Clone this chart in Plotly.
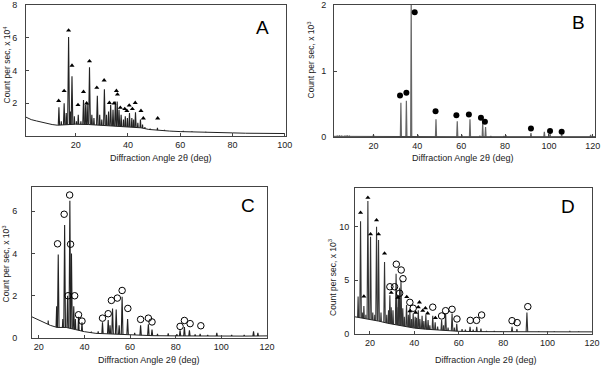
import plotly.graph_objects as go

# ---- Panel A ----
a_bg_x = [1, 3, 5, 8, 11, 13, 16, 20, 25, 30, 35, 40, 45, 48, 52, 56, 60, 65, 70, 75, 80, 85, 90, 95, 100]
a_bg_y = [1.15, 1.0, 0.92, 0.8, 0.7, 0.66, 0.7, 0.72, 0.7, 0.65, 0.6, 0.55, 0.5, 0.4, 0.34, 0.3, 0.27, 0.24,
          0.22, 0.2, 0.19, 0.17, 0.16, 0.15, 0.15]
a_pk_x = [13.6, 14.5, 15.6, 16.4, 17.3, 18.0, 18.6, 19.5, 20.3, 21.0, 22.0, 23.0, 23.7, 24.4, 25.3, 26.2, 27.0,
          28.3, 29.2, 30.0, 31.0, 31.8, 32.6, 33.4, 34.3, 35.2, 35.9, 36.6, 37.4, 38.3, 39.0, 39.8, 40.6, 41.5,
          42.2, 42.9, 43.8, 44.8, 45.6, 46.5, 48.5, 51.3, 54.0, 57.0, 61.2, 64.5, 69.8, 74.0]
a_pk_y = [1.75, 0.9, 2.0, 1.4, 6.05, 1.5, 3.65, 1.2, 0.9, 1.3, 0.9, 2.2, 1.9, 2.0, 4.2, 1.3, 1.1,
          2.45, 1.3, 1.0, 2.85, 1.3, 1.5, 1.9, 1.6, 2.1, 2.1, 1.6, 1.3, 1.0, 1.2, 1.1, 1.4, 1.1,
          1.0, 1.45, 0.8, 1.0, 0.7, 0.55, 0.45, 0.5, 0.38, 0.3, 0.32, 0.28, 0.25, 0.22]
a_tri_x = [13.5, 15.6, 17.3, 18.6, 20.9, 23.0, 24.2, 25.3, 28.1, 30.9, 32.9, 34.7, 35.6, 36.0, 37.1, 38.8,
           39.6, 40.5, 41.7, 42.8, 45.0, 45.9, 51.4]
a_tri_y = [2.15, 2.75, 6.45, 4.3, 1.9, 2.7, 2.0, 4.57, 2.95, 3.4, 2.03, 2.0, 2.76, 2.54, 1.73, 1.65,
           1.54, 1.87, 1.65, 2.03, 1.54, 1.08, 1.08]

# ---- Panel B ----
b_bg_x = [2, 10, 30, 60, 90, 121]
b_bg_y = [0.01, 0.008, 0.006, 0.005, 0.005, 0.005]
b_pk_x = [3.5, 4.5, 5.5, 7, 8, 9, 20.0, 32.5, 35.0, 37.2, 40.3, 48.5, 58.2, 60.3, 64.0, 68.5, 69.8, 71.1,
          73.5, 79.5, 80.5, 91.8, 97.9, 100.5, 105.8, 119]
b_pk_y = [0.02, 0.025, 0.02, 0.02, 0.025, 0.02, 0.035, 0.52, 0.55, 2.05, 0.03, 0.27, 0.24, 0.03, 0.27, 0.02,
          0.21, 0.15, 0.015, 0.015, 0.025, 0.06, 0.08, 0.05, 0.04, 0.03]
b_dot_x = [32.1, 35.0, 38.8, 48.3, 57.8, 63.5, 69.0, 70.8, 91.8, 100.5, 105.8]
b_dot_y = [0.63, 0.67, 1.89, 0.39, 0.33, 0.34, 0.29, 0.23, 0.13, 0.09, 0.08]

# ---- Panel C ----
c_bg_x = [17, 19, 22, 25, 28, 32, 36, 40, 45, 50, 55, 60, 70, 80, 90, 100, 110, 120]
c_bg_y = [1.0, 0.9, 0.75, 0.6, 0.5, 0.5, 0.4, 0.3, 0.22, 0.2, 0.18, 0.14, 0.11, 0.1, 0.09, 0.09, 0.09, 0.1]
c_pk_x = [24.1, 27.8, 28.5, 30.5, 31.3, 32.6, 33.6, 34.3, 35.3, 36.0, 37.4, 38.9, 43.0, 46.0, 47.9, 50.4,
          51.2, 52.3, 53.9, 55.2, 56.5, 58.9, 62.0, 64.6, 68.0, 69.6, 72.0, 76.7, 80.5, 81.9, 83.8, 86.0,
          88.5, 90.7, 94.0, 98.0, 104.5, 110.0, 114.1, 116.0]
c_pk_y = [0.83, 1.5, 3.95, 0.9, 5.35, 2.0, 6.5, 4.0, 1.5, 0.9, 1.0, 0.75, 0.3, 0.32, 0.75, 0.85,
          0.6, 1.4, 1.35, 0.6, 1.95, 0.9, 0.25, 0.6, 0.65, 0.4, 0.2, 0.22, 0.18, 0.36, 0.52, 0.36,
          0.17, 0.2, 0.15, 0.25, 0.15, 0.15, 0.31, 0.25]
c_circ_x = [28.2, 31.1, 32.8, 33.5, 33.9, 35.7, 37.4, 38.9, 47.9, 50.4, 51.8, 54.4, 56.5, 59.0, 64.6, 68.0,
            69.6, 81.9, 83.8, 86.3, 91.0]
c_circ_y = [4.46, 5.86, 2.0, 6.77, 4.44, 2.0, 1.1, 0.8, 0.94, 1.15, 1.78, 1.89, 2.25, 1.4, 0.88, 0.94,
            0.76, 0.55, 0.83, 0.68, 0.58]

# ---- Panel D ----
d_bg_x = [13.3, 16, 20, 24, 28, 32, 36, 40, 45, 50, 55, 60, 70, 80, 90, 100, 110, 120]
d_bg_y = [1.6, 1.5, 1.4, 1.2, 1.0, 0.85, 0.7, 0.55, 0.45, 0.38, 0.3, 0.25, 0.22, 0.2, 0.2, 0.2, 0.2, 0.2]
d_pk_x = [14.7, 15.8, 16.6, 17.3, 18.2, 19.1, 20.3, 21.3, 22.2, 23.0, 23.9, 25.0, 26.6, 27.6, 28.4, 29.0,
          29.6, 30.4, 31.8, 32.2, 32.8, 33.4, 34.0, 34.8, 35.5, 36.5, 37.3, 38.0, 38.8, 39.5, 40.4, 41.0,
          41.8, 42.5, 43.5, 44.3, 45.2, 46.2, 47.0, 48.3, 49.4, 50.5, 52.3, 53.2, 54.1, 55.2, 57.0, 58.0,
          59.1, 61.5, 63.0, 65.1, 66.5, 68.1, 70.0, 72.5, 76.0, 79.0, 84.0, 86.2, 90.7, 96.0, 103.0, 110.0,
          114.0]
d_pk_y = [3.5, 10.5, 2.0, 2.6, 1.8, 12.4, 9.05, 2.0, 1.8, 10.0, 8.75, 2.0, 6.7, 1.8, 2.2, 3.6,
          2.5, 2.2, 5.6, 2.5, 3.6, 4.3, 5.0, 2.4, 1.6, 2.7, 1.8, 2.1, 1.4, 1.9, 1.6, 1.5,
          2.2, 1.4, 1.7, 1.2, 1.8, 1.3, 0.8, 1.7, 1.1, 0.7, 1.3, 0.8, 1.9, 0.6, 1.9, 0.6,
          0.95, 0.45, 0.4, 0.68, 0.4, 0.68, 0.5, 0.3, 0.3, 0.25, 0.68, 0.45, 2.0, 0.25, 0.25, 0.3,
          0.25]
d_tri_x = [15.8, 17.3, 19.1, 20.3, 23.0, 23.9, 26.6, 29.6, 32.6, 36.6, 38.0, 40.6, 41.8, 42.3, 43.8, 45.0,
           46.0, 49.5]
d_tri_y = [11.3, 3.5, 12.7, 9.3, 10.6, 9.3, 7.5, 3.85, 3.4, 3.45, 2.14, 2.0, 2.5, 2.95, 2.17, 2.4,
           1.93, 1.5]
d_circ_x = [29.0, 31.1, 31.9, 33.4, 34.1, 34.9, 38.0, 39.5, 48.3, 52.3, 54.1, 57.0, 59.2, 65.2, 68.0, 70.3,
            84.0, 86.3, 91.1]
d_circ_y = [4.4, 4.4, 6.5, 3.8, 5.96, 5.15, 2.95, 2.4, 2.5, 1.68, 2.17, 2.3, 1.4, 1.27, 1.27, 1.77,
            1.24, 1.06, 2.55]

W, H = 602, 367
FONT = "Liberation Sans, Arial, sans-serif"
XTITLE = "Diffraction Angle 2θ (deg)"
YTITLE = "Count per sec, x 10<sup>%s</sup>"


def peak_trace(px, py, ax, color, half=0.4, width=1.1):
    xs, ys = [], []
    for p, h in zip(px, py):
        xs += [p - half, p, p + half, None]
        ys += [0, h, 0, None]
    return go.Scatter(x=xs, y=ys, mode="lines", line=dict(color=color, width=width),
                      xaxis="x" + ax, yaxis="y" + ax, showlegend=False, hoverinfo="skip")


def bg_trace(bx, by, ax, color):
    # white fill hides the bottoms of the peak lines under the baseline
    return go.Scatter(x=bx, y=by, mode="lines", line=dict(color=color, width=1),
                      fill="tozeroy", fillcolor="white",
                      xaxis="x" + ax, yaxis="y" + ax, showlegend=False, hoverinfo="skip")


def marker_trace(mx, my, ax, symbol, size, width=1):
    return go.Scatter(x=mx, y=my, mode="markers", xaxis="x" + ax, yaxis="y" + ax,
                      marker=dict(symbol=symbol, size=size, color="black", line=dict(color="black", width=width)),
                      showlegend=False, hoverinfo="skip")


fig = go.Figure()
fig.add_trace(peak_trace(a_pk_x, a_pk_y, "", "#222"))
fig.add_trace(bg_trace(a_bg_x, a_bg_y, "", "#222"))
fig.add_trace(marker_trace(a_tri_x, a_tri_y, "", "triangle-up", 4.5, 0))

fig.add_trace(peak_trace(b_pk_x, b_pk_y, "2", "#666", half=0.25, width=1.2))
fig.add_trace(bg_trace(b_bg_x, b_bg_y, "2", "#444"))
fig.add_trace(marker_trace(b_dot_x, b_dot_y, "2", "circle", 6, 0))

fig.add_trace(peak_trace(c_pk_x, c_pk_y, "3", "#222"))
fig.add_trace(bg_trace(c_bg_x, c_bg_y, "3", "#222"))
fig.add_trace(marker_trace(c_circ_x, c_circ_y, "3", "circle-open", 6.5, 1))

fig.add_trace(peak_trace(d_pk_x, d_pk_y, "4", "#333"))
fig.add_trace(bg_trace(d_bg_x, d_bg_y, "4", "#222"))
fig.add_trace(marker_trace(d_tri_x, d_tri_y, "4", "triangle-up", 4.5, 0))
fig.add_trace(marker_trace(d_circ_x, d_circ_y, "4", "circle-open", 6.5, 1))


def xdom(l, r):
    return [l / W, r / W]


def ydom(t, b):
    return [1 - b / H, 1 - t / H]


axis_common = dict(showline=True, mirror=True, linecolor="#444", linewidth=1, ticks="inside", ticklen=3,
                   tickcolor="#444", showgrid=False, zeroline=False, automargin=False,
                   ticklabeloverflow="allow", tickfont=dict(size=9, color="#222"))

fig.update_layout(
    template="none",
    width=W, height=H, margin=dict(l=0, r=0, t=0, b=0),
    paper_bgcolor="white", plot_bgcolor="white",
    font=dict(family=FONT, size=9, color="#222"),
    xaxis=dict(domain=xdom(26, 286), range=[1, 100.5], tickvals=[20, 40, 60, 80, 100],
               anchor="y", **axis_common),
    yaxis=dict(domain=ydom(5, 136), range=[0, 8], tickvals=[2, 4, 6, 8], anchor="x",
               ticklabelstandoff=6, **axis_common),
    xaxis2=dict(domain=xdom(334, 595), range=[2, 121], tickvals=[20, 40, 60, 80, 100, 120],
                anchor="y2", **axis_common),
    yaxis2=dict(domain=ydom(5, 137), range=[0, 2], tickvals=[0, 1, 2], anchor="x2",
                ticklabelstandoff=5, **axis_common),
    xaxis3=dict(domain=xdom(32, 267), range=[17, 120], tickvals=[20, 40, 60, 80, 100, 120],
                anchor="y3", **axis_common),
    yaxis3=dict(domain=ydom(187, 338), range=[0, 7.15], tickvals=[0, 2, 4, 6], anchor="x3",
                ticklabelstandoff=12, **axis_common),
    xaxis4=dict(domain=xdom(355, 592), range=[13.3, 120], tickvals=[20, 40, 60, 80, 100, 120],
                anchor="y4", **axis_common),
    yaxis4=dict(domain=ydom(188, 334), range=[0, 13.6], tickvals=[0, 5, 10], anchor="x4",
                ticklabelstandoff=3, **axis_common),
)

# axis titles placed as annotations (pixel centres)
x_titles = [(161, 158), (462, 158), (148.5, 360), (485, 360)]
y_titles = [(6.5, 65, "4"), (311.5, 60, "3"), (5.5, 264, "3"), (332, 277, "3")]
for cx, cy in x_titles:
    fig.add_annotation(text=XTITLE, xref="paper", yref="paper", x=cx / W, y=1 - cy / H,
                       showarrow=False, font=dict(size=9, color="#222"), xanchor="center", yanchor="middle")
for cx, cy, p in y_titles:
    fig.add_annotation(text=YTITLE % p, xref="paper", yref="paper", x=cx / W, y=1 - cy / H, textangle=-90,
                       showarrow=False, font=dict(size=8.5, color="#222"), xanchor="center", yanchor="middle")

letters = [("A", "x", 0.908, 0.83), ("B", "x2", 0.935, 0.87), ("C", "x3", 0.92, 0.88), ("D", "x4", 0.9, 0.87)]
for txt, ax, fx, fy in letters:
    yax = ax.replace("x", "y")
    fig.add_annotation(text=txt, xref=ax + " domain", yref=yax + " domain", x=fx, y=fy,
                       showarrow=False, font=dict(size=19, color="black"), xanchor="center", yanchor="middle")

# the page's default body margin would push the figure 8px down and right
fig.write_html("out.html", config={"displayModeBar": False},
               post_script="document.body.style.margin='0';")
